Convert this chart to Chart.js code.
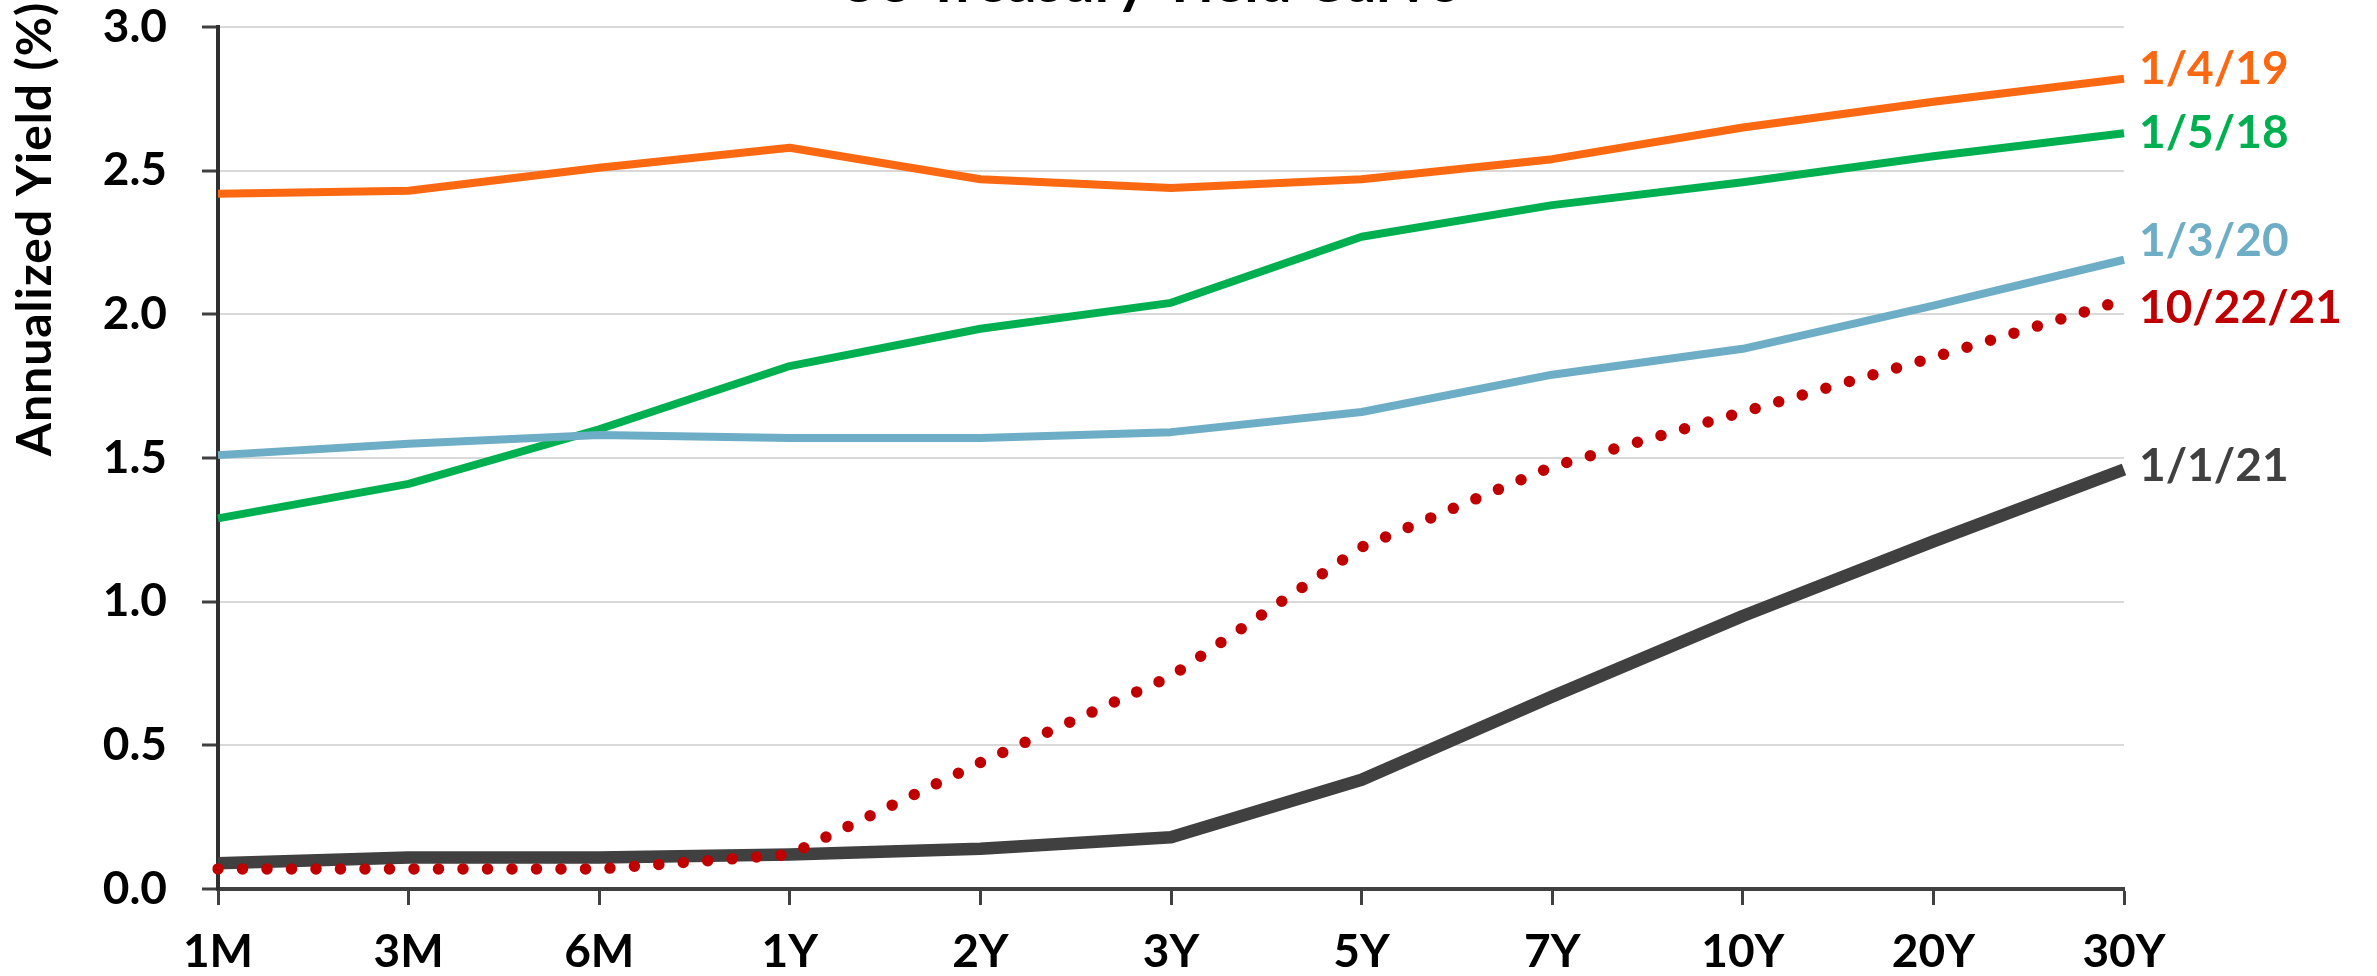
<!DOCTYPE html>
<html>
<head>
<meta charset="utf-8">
<script src="https://cdn.jsdelivr.net/npm/chart.js@4.4.1/dist/chart.umd.min.js"></script>
<style>
  html, body { margin: 0; padding: 0; background: #ffffff; }
  canvas { display: block; }
</style>
</head>
<body>
<canvas id="curve" width="2377" height="976"></canvas>
<script>
// Maturities along the curve
const maturities = ['1M', '3M', '6M', '1Y', '2Y', '3Y', '5Y', '7Y', '10Y', '20Y', '30Y'];

// Annualized yields (%) per curve date
const yields_10_22_21 = [0.07, 0.07, 0.07, 0.12, 0.44, 0.74, 1.19, 1.47, 1.66, 1.85, 2.05];
const yields_1_1_21   = [0.09, 0.11, 0.11, 0.12, 0.14, 0.18, 0.38, 0.67, 0.95, 1.21, 1.46];
const yields_1_3_20   = [1.51, 1.55, 1.58, 1.57, 1.57, 1.59, 1.66, 1.79, 1.88, 2.03, 2.19];
const yields_1_5_18   = [1.29, 1.41, 1.60, 1.82, 1.95, 2.04, 2.27, 2.38, 2.46, 2.55, 2.63];
const yields_1_4_19   = [2.42, 2.43, 2.51, 2.58, 2.47, 2.44, 2.47, 2.54, 2.65, 2.74, 2.82];

// Curve dates (shown as end-of-line labels)
const curveDates = ['10/22/21', '1/1/21', '1/3/20', '1/5/18', '1/4/19'];

const chartTitle = 'US Treasury Yield Curve';
const yAxisTitle = 'Annualized Yield (%)';

const FONT = 'Lato';

// Title, rotated axis title and the date tags at the right end of each curve
const annotate = {
  id: 'annotate',
  afterDatasetsDraw(chart) {
    const ctx = chart.ctx;
    ctx.save();
    ctx.font = `bold 46px ${FONT}`;
    ctx.textAlign = 'left';
    ctx.textBaseline = 'middle';
    chart.data.datasets.forEach((ds, i) => {
      const meta = chart.getDatasetMeta(i);
      const last = meta.data[meta.data.length - 1];
      ctx.fillStyle = ds.tagColor;
      ctx.fillText(ds.label, last.x + 15, last.y + ds.tagNudge);
    });
    ctx.restore();
  },
  afterDraw(chart) {
    const ctx = chart.ctx;
    ctx.save();
    ctx.fillStyle = '#000000';
    ctx.font = `bold 58px ${FONT}`;
    ctx.textAlign = 'center';
    ctx.textBaseline = 'alphabetic';
    ctx.fillText(chartTitle, 1148, 2);

    ctx.translate(36, 229);
    ctx.rotate(-Math.PI / 2);
    ctx.font = `bold 48px ${FONT}`;
    if ('letterSpacing' in ctx) ctx.letterSpacing = '1px';
    ctx.textBaseline = 'middle';
    ctx.fillText(yAxisTitle, 0, 0);
    ctx.restore();
  }
};

function lineSet(label, data, color, width, nudge, extra) {
  return Object.assign({
    label: label,
    data: data,
    borderColor: color,
    tagColor: color,
    tagNudge: nudge,
    borderWidth: width,
    borderJoinStyle: 'round',
    borderCapStyle: 'butt',
    pointRadius: 0,
    pointHoverRadius: 0,
    tension: 0,
    fill: false
  }, extra || {});
}

function draw() {
  new Chart(document.getElementById('curve'), {
    type: 'line',
    data: {
      labels: maturities,
      datasets: [
        lineSet(curveDates[0], yields_10_22_21, '#C00000', 11.5, 8,
          { borderDash: [0, 24.5], borderCapStyle: 'round' }),
        lineSet(curveDates[1], yields_1_1_21, '#404040', 12.5, -3),
        lineSet(curveDates[2], yields_1_3_20, '#6EADC6', 8, -19),
        lineSet(curveDates[3], yields_1_5_18, '#00B050', 8, 0),
        lineSet(curveDates[4], yields_1_4_19, '#FA6912', 8, -10)
      ]
    },
    options: {
      responsive: false,
      animation: false,
      events: [],
      layout: { padding: { top: 27, right: 253, bottom: 0, left: 0 } },
      plugins: {
        legend: { display: false },
        title: { display: false },
        tooltip: { enabled: false }
      },
      scales: {
        x: {
          offset: false,
          grid: {
            drawOnChartArea: false,
            drawTicks: true,
            tickLength: 16,
            tickColor: '#404040',
            tickWidth: 3
          },
          border: { display: true, color: '#404040', width: 4 },
          ticks: {
            color: '#000000',
            padding: 20,
            maxRotation: 0,
            autoSkip: false,
            font: { family: FONT, size: 46, weight: 'bold' }
          },
          afterFit(scale) { scale.height = 87; scale.paddingLeft = 0; scale.paddingRight = 0; }
        },
        y: {
          min: 0,
          max: 3,
          ticks: {
            stepSize: 0.5,
            color: '#000000',
            padding: 35,
            font: { family: FONT, size: 46, weight: 'bold' },
            callback: (v) => Number(v).toFixed(1)
          },
          grid: {
            color: '#D9D9D9',
            lineWidth: 2,
            tickLength: 16,
            tickColor: '#404040',
            tickWidth: 3
          },
          border: { display: true, color: '#303030', width: 4 },
          afterFit(scale) { scale.width = 218; scale.paddingTop = 0; scale.paddingBottom = 0; }
        }
      }
    },
    plugins: [annotate]
  });
}

document.fonts.load(`bold 46px ${FONT}`).then(draw, draw);
</script>
</body>
</html>
